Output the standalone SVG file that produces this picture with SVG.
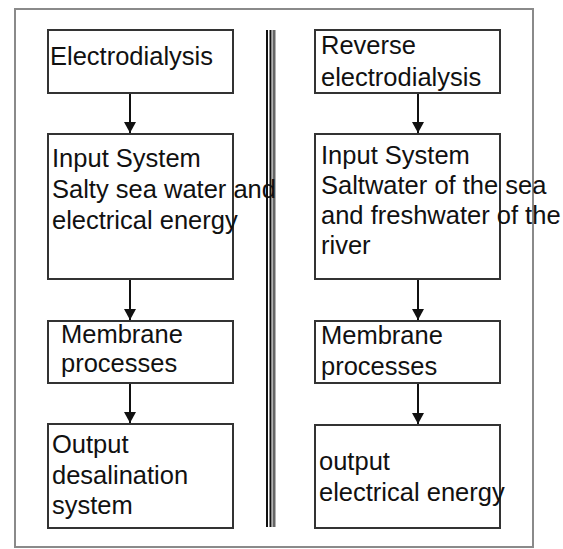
<svg xmlns="http://www.w3.org/2000/svg" width="563" height="549" viewBox="0 0 563 549">
<style>
.frame{fill:#fff;stroke:#8a8a8a;stroke-width:2}
.box{fill:#fff;stroke:#333;stroke-width:2}
.t{font-family:"Liberation Sans",Arial,sans-serif;font-size:25.5px;fill:#111}
.arr{stroke:#111;stroke-width:2;fill:none;marker-end:url(#ah)}
</style>
<defs>
<marker id="ah" viewBox="0 0 11 12" refX="11" refY="6" markerWidth="11" markerHeight="12" markerUnits="userSpaceOnUse" orient="auto">
<path d="M0,0 L11,6 L0,12 Z" fill="#111"/>
</marker>
</defs>
<rect x="0" y="0" width="563" height="549" fill="#fff"/>
<rect class="frame" x="15" y="9" width="518" height="538"/>
<g id="divider">
<line x1="267" y1="30" x2="267" y2="527" stroke="#111" stroke-width="2"/>
<line x1="270.5" y1="30" x2="270.5" y2="527" stroke="#111" stroke-width="2"/>
<line x1="274" y1="30" x2="274" y2="527" stroke="#666" stroke-width="3"/>
</g>
<g id="connectors">
<line class="arr" x1="130" y1="93" x2="130" y2="133"/>
<line class="arr" x1="130" y1="279" x2="130" y2="320"/>
<line class="arr" x1="130" y1="383" x2="130" y2="423"/>
<line class="arr" x1="418" y1="93" x2="418" y2="133"/>
<line class="arr" x1="418" y1="279" x2="418" y2="320"/>
<line class="arr" x1="418" y1="383" x2="418" y2="424"/>
</g>
<g id="ed">
<rect class="box" x="48" y="30" width="185" height="63"/>
<text class="t" x="50" y="65">Electrodialysis</text>
</g>
<g id="ed-input">
<rect class="box" x="48" y="134" width="185" height="145"/>
<text class="t" x="52" y="167">Input System</text>
<text class="t" x="52" y="198">Salty sea water and</text>
<text class="t" x="52" y="229">electrical energy</text>
</g>
<g id="ed-membrane">
<rect class="box" x="48" y="321" width="185" height="62"/>
<text class="t" x="61" y="343">Membrane</text>
<text class="t" x="61" y="372">processes</text>
</g>
<g id="ed-output">
<rect class="box" x="48" y="424" width="185" height="104"/>
<text class="t" x="52" y="453">Output</text>
<text class="t" x="52" y="484">desalination</text>
<text class="t" x="52" y="514">system</text>
</g>
<g id="red">
<rect class="box" x="315" y="30" width="185" height="63"/>
<text class="t" x="321" y="54">Reverse</text>
<text class="t" x="321" y="86">electrodialysis</text>
</g>
<g id="red-input">
<rect class="box" x="315" y="134" width="185" height="145"/>
<text class="t" x="321" y="164">Input System</text>
<text class="t" x="321" y="194">Saltwater of the sea</text>
<text class="t" x="321" y="224">and freshwater of the</text>
<text class="t" x="321" y="254">river</text>
</g>
<g id="red-membrane">
<rect class="box" x="315" y="321" width="185" height="62"/>
<text class="t" x="321" y="344">Membrane</text>
<text class="t" x="321" y="375">processes</text>
</g>
<g id="red-output">
<rect class="box" x="315" y="425" width="185" height="103"/>
<text class="t" x="319" y="470">output</text>
<text class="t" x="319" y="501">electrical energy</text>
</g>
</svg>
